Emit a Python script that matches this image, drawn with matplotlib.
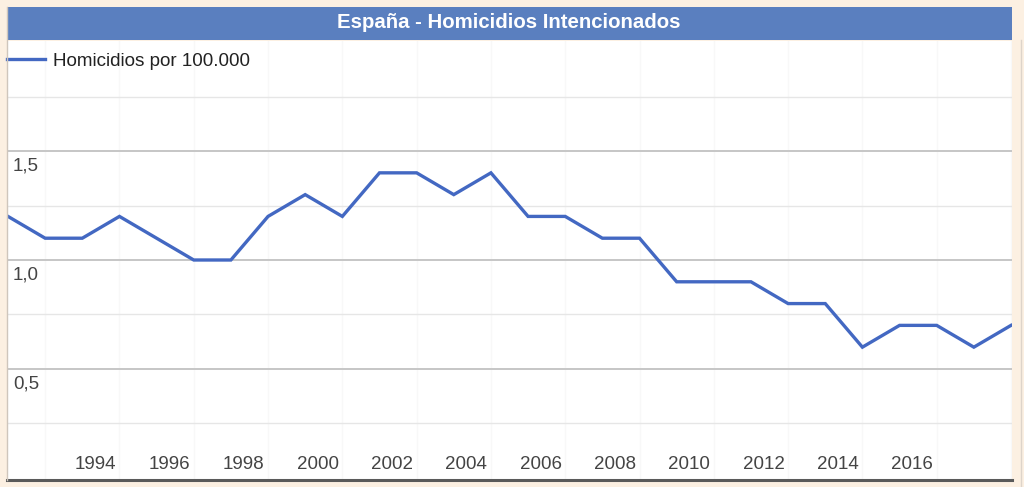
import matplotlib
matplotlib.use("Agg")
import matplotlib.pyplot as plt
from matplotlib.patches import Rectangle
from matplotlib.lines import Line2D

plt.rcParams['font.family'] = ['Liberation Sans', 'DejaVu Sans']

years = list(range(1991, 2019))
homicidios = [1.2, 1.1, 1.1, 1.2, 1.1, 1.0, 1.0, 1.2, 1.3, 1.2,
              1.4, 1.4, 1.3, 1.4, 1.2, 1.2, 1.1, 1.1, 0.9, 0.9,
              0.9, 0.8, 0.8, 0.6, 0.7, 0.7, 0.6, 0.7]
tick_years = list(range(1994, 2017, 2))
grid_years = list(range(1992, 2019, 2))
major_y = [0.5, 1.0, 1.5]
minor_y = [0.25, 0.75, 1.25, 1.75]
y_labels = ['0,5', '1,0', '1,5']

W, H = 1024, 487
fig = plt.figure(figsize=(W / 100, H / 100), dpi=100)
fig.patch.set_facecolor('#fcf0e2')

def fx(px):
    return px / W

def fy(py):
    return 1 - py / H

# title bar
fig.patches.append(Rectangle((fx(7), fy(40)), fx(1005), 33 / H,
                             transform=fig.transFigure, facecolor='#5a7fbf',
                             edgecolor='none', zorder=0))
fig.text(fx(509), fy(23), 'España - Homicidios Intencionados', color='white',
         fontsize=14.7, fontweight='bold', ha='center', va='center')

ax = fig.add_axes([fx(7), fy(479), fx(1005), 438 / H])
ax.set_facecolor('white')
px_year = 37.15
ax.set_xlim(1991 - 1 / px_year, 2018 + 1 / px_year)
ax.set_ylim(-0.005, 2.005)
for s in ax.spines.values():
    s.set_visible(False)
ax.set_xticks([])
ax.set_yticks([])

for g in grid_years:
    ax.axvline(g, color='#f8f8f8', lw=1, zorder=1)
for v in minor_y:
    ax.axhline(v, color='#e6e6e6', lw=1, zorder=1)
for v in major_y:
    ax.axhline(v, color='#c6c6c6', lw=1.4, zorder=1)

ax.plot(years, homicidios, color='#4368c2', lw=2.4, zorder=3,
        label='Homicidios por 100.000', solid_joinstyle='miter')

for yr in tick_years:
    ax.text(yr - 0.66, 0.06, str(yr), ha='center', va='center',
            fontsize=13.5, color='#444444')
for v, lab in zip(major_y, y_labels):
    ax.text(0.006, v - 0.07, lab, transform=ax.get_yaxis_transform(),
            ha='left', va='center', fontsize=13.5, color='#444444')

ax.legend(loc='center left', bbox_to_anchor=(0, (479 - 61) / 438),
          frameon=False, borderpad=0, borderaxespad=0, handlelength=2.0,
          handletextpad=0.42, fontsize=13.6, labelcolor='#222222')

# bottom shadow and side borders
fig.add_artist(Line2D([fx(7), fx(1012)], [fy(479.5), fy(479.5)], color='#5a5a5a', lw=2.2))
fig.add_artist(Line2D([fx(6.5), fx(6.5)], [fy(7), fy(480)], color='#cfc6bc', lw=1))
fig.add_artist(Line2D([fx(1021), fx(1021)], [fy(40), fy(487)], color='#ddd4ca', lw=1))

fig.savefig('out.png', dpi=100, facecolor=fig.get_facecolor())
